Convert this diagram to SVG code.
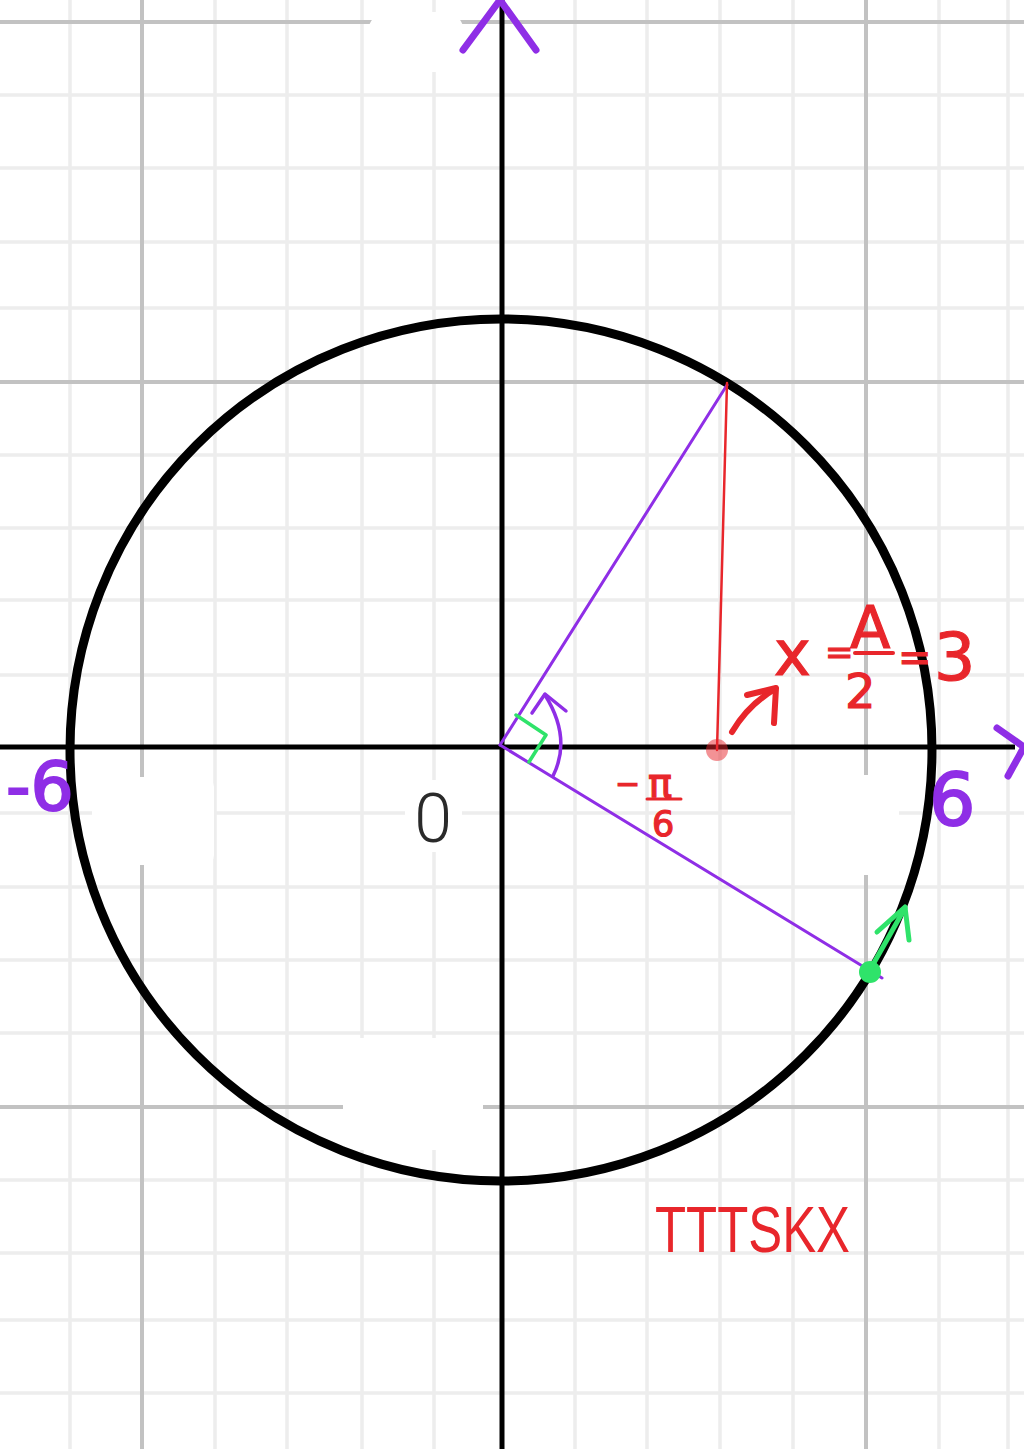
<svg xmlns="http://www.w3.org/2000/svg" width="1024" height="1449" viewBox="0 0 1024 1449">
<style>
.minor{stroke:#ededed;stroke-width:3.5}
.major{stroke:#c2c2c2;stroke-width:4}
.axis{stroke:#000;stroke-width:5}
.pur{stroke:#8f2ee6;fill:none;stroke-linecap:round;stroke-linejoin:round}
.red{stroke:#e8262b;fill:none;stroke-linecap:round;stroke-linejoin:round}
.grn{stroke:#2fe36a;fill:none;stroke-linecap:round;stroke-linejoin:round}
.ptxt{fill:#8f2ee6;stroke:#8f2ee6;stroke-width:2;font-family:"DejaVu Sans",sans-serif}
.rtxt{fill:#e8262b;stroke:#e8262b;stroke-width:1.2;font-family:"DejaVu Sans",sans-serif}
</style>
<rect width="1024" height="1449" fill="#fff"/>
<g id="grid">
<g class="minor">
<line x1="70" y1="0" x2="70" y2="1449"/><line x1="215" y1="0" x2="215" y2="1449"/><line x1="287" y1="0" x2="287" y2="1449"/><line x1="362" y1="0" x2="362" y2="1449"/><line x1="434" y1="0" x2="434" y2="1449"/><line x1="575" y1="0" x2="575" y2="1449"/><line x1="647" y1="0" x2="647" y2="1449"/><line x1="720" y1="0" x2="720" y2="1449"/><line x1="793" y1="0" x2="793" y2="1449"/><line x1="939" y1="0" x2="939" y2="1449"/><line x1="1008" y1="0" x2="1008" y2="1449"/>
<line x1="0" y1="95" x2="1024" y2="95"/><line x1="0" y1="168" x2="1024" y2="168"/><line x1="0" y1="242" x2="1024" y2="242"/><line x1="0" y1="308" x2="1024" y2="308"/><line x1="0" y1="455" x2="1024" y2="455"/><line x1="0" y1="528" x2="1024" y2="528"/><line x1="0" y1="600" x2="1024" y2="600"/><line x1="0" y1="675" x2="1024" y2="675"/><line x1="0" y1="813" x2="1024" y2="813"/><line x1="0" y1="887" x2="1024" y2="887"/><line x1="0" y1="960" x2="1024" y2="960"/><line x1="0" y1="1033" x2="1024" y2="1033"/><line x1="0" y1="1180" x2="1024" y2="1180"/><line x1="0" y1="1253" x2="1024" y2="1253"/><line x1="0" y1="1320" x2="1024" y2="1320"/><line x1="0" y1="1393" x2="1024" y2="1393"/>
</g>
<g class="major">
<line x1="142" y1="0" x2="142" y2="1449"/><line x1="866" y1="0" x2="866" y2="1449"/>
<line x1="0" y1="22" x2="1024" y2="22"/><line x1="0" y1="382" x2="1024" y2="382"/><line x1="0" y1="1107" x2="1024" y2="1107"/>
</g>
<g fill="#fff">
<rect x="368" y="12" width="96" height="60" rx="20"/>
<rect x="92" y="777" width="122" height="88" rx="10"/>
<rect x="405" y="780" width="57" height="72" rx="8"/>
<rect x="795" y="775" width="104" height="100" rx="10"/>
<rect x="343" y="1038" width="140" height="112" rx="12"/>
</g>
</g>
<g id="axes">
<line class="axis" x1="0" y1="747" x2="1015" y2="747"/>
<line class="axis" x1="502" y1="0" x2="502" y2="1449"/>
<polyline class="pur" stroke-width="7" points="463,50 500,0 536,50"/>
<polyline class="pur" stroke-width="7" points="997,728 1024,747 1008,776"/>
</g>
<g id="circle">
<circle cx="501" cy="750" r="431" fill="none" stroke="#000" stroke-width="9"/>
</g>
<g id="connectors">
<line class="pur" stroke-width="3" x1="500" y1="745" x2="727" y2="385"/>
<line class="pur" stroke-width="3" x1="500" y1="745" x2="882" y2="978"/>
<line class="red" stroke-width="2.5" x1="727" y1="383" x2="717" y2="750"/>
<circle cx="717" cy="750" r="11" fill="#e8262b" fill-opacity="0.5"/>
<polyline class="grn" stroke-width="3.5" points="516,715 546,735 529,762"/>
<path class="pur" stroke-width="3.5" d="M553,776 Q572,738 545,695"/>
<polyline class="pur" stroke-width="3.5" points="532,713 545,694 566,711"/>
<path class="red" stroke-width="6" d="M732,732 Q748,705 775,689"/>
<polyline class="red" stroke-width="6" points="747,695 776,688 774,723"/>
<circle cx="870" cy="972" r="11" fill="#2fe36a"/>
<line class="grn" stroke-width="5" x1="871" y1="968" x2="905" y2="908"/>
<polyline class="grn" stroke-width="5" points="877,932 905,907 909,940"/>
</g>
<g id="labels">
<text class="ptxt" x="6" y="810" font-size="68">-6</text>
<text class="ptxt" x="929" y="825" font-size="73">6</text>
<text x="433" y="842" font-size="68" fill="#2a2a2a" font-family="Roboto,sans-serif" font-weight="300" text-anchor="middle">0</text>
<text class="rtxt" x="774" y="675" font-size="62">x</text>
<text class="rtxt" x="825" y="664" font-size="34">=</text>
<text class="rtxt" x="850" y="648" font-size="59">A</text>
<line class="red" stroke-width="4" x1="855" y1="653" x2="893" y2="653"/>
<text class="rtxt" x="845" y="708" font-size="48">2</text>
<text class="rtxt" x="898" y="671" font-size="40">=</text>
<text class="rtxt" x="934" y="680" font-size="65">3</text>
<text class="rtxt" x="615" y="794" font-size="30">−</text>
<text class="rtxt" x="648" y="797" font-size="40">π</text>
<line class="red" stroke-width="3" x1="647" y1="799" x2="681" y2="799"/>
<text class="rtxt" x="652" y="836" font-size="35">6</text>
<text x="655" y="1252" font-size="64" fill="#e8262b" font-family="Liberation Sans,sans-serif" textLength="195" lengthAdjust="spacingAndGlyphs">TTTSKX</text>
</g>
</svg>
